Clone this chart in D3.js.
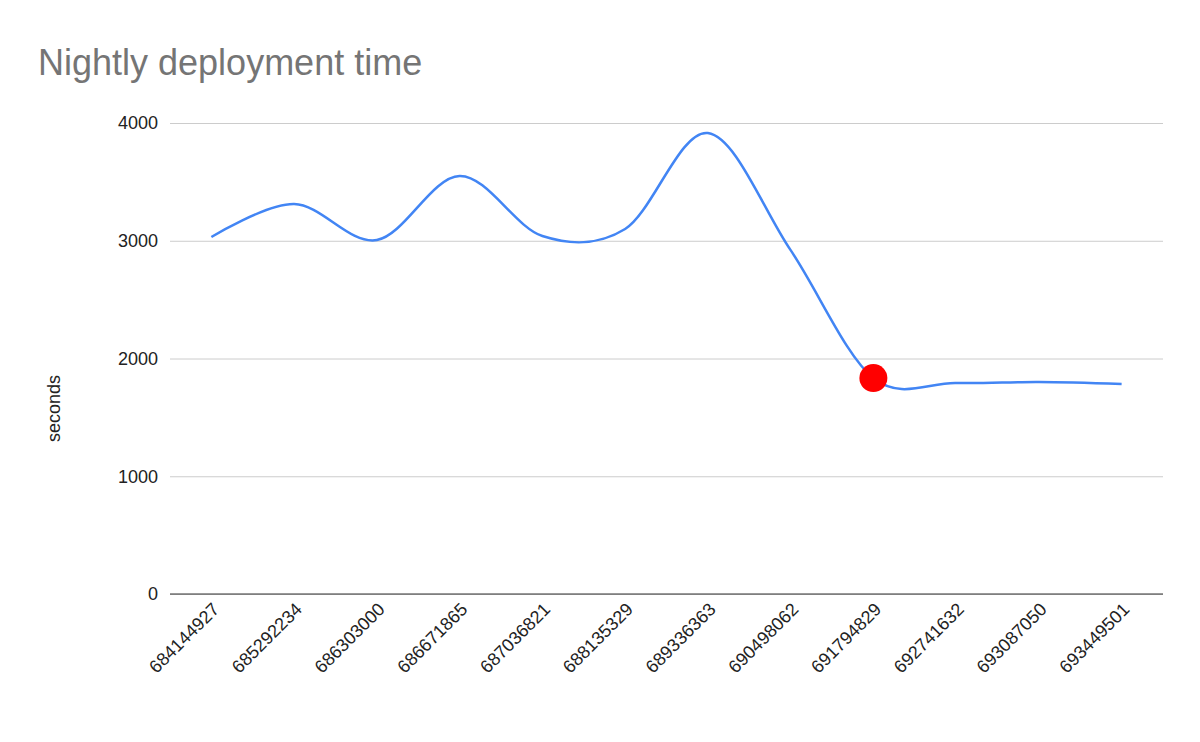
<!DOCTYPE html>
<html><head><meta charset="utf-8">
<script src="https://cdn.jsdelivr.net/npm/d3@7"></script>
<style>body{margin:0;background:#fff}</style>
</head><body>
<svg id="c" width="1200" height="742"></svg>
<script>
const categories=["684144927","685292234","686303000","686671865","687036821","688135329","689336363","690498062","691794829","692741632","693087050","693449501"];
const seconds=[3032,3312,3006,3550,3040,3100,3915,2920,1834,1792,1800,1783];
const highlightIndex=[8];
const yTicks=[0,1000,2000,3000,4000];

const svg=d3.select("#c");
const font="'Liberation Sans', Arial, sans-serif";
const L=170,R=1163,T=123,B=594;
const x=d3.scalePoint().domain(categories).range([L,R]).padding(0.5);
const y=d3.scaleLinear().domain([0,4000]).range([B,T]);

svg.append("text").attr("x",38).attr("y",75).attr("font-family",font).attr("font-size",36).attr("fill","#757575").text("Nightly deployment time");

const ga=svg.append("g").attr("transform",`translate(${L},0)`)
 .call(d3.axisLeft(y).tickValues(yTicks).tickSize(-(R-L)).tickFormat(d3.format("d")));
ga.select(".domain").remove();
ga.selectAll(".tick line").attr("stroke","#ccc");
ga.selectAll(".tick text").attr("font-family",font).attr("font-size",18).attr("fill","#222").attr("x",-12);
svg.append("line").attr("x1",L).attr("x2",R).attr("y1",B).attr("y2",B).attr("stroke","#333");

const gx=svg.append("g").attr("transform",`translate(0,${B})`).call(d3.axisBottom(x).tickSize(0));
gx.select(".domain").remove();
gx.selectAll(".tick text").attr("font-family",font).attr("font-size",18).attr("fill","#222")
 .attr("text-anchor","end").attr("transform","translate(4,12) rotate(-45)").attr("dy","0.35em").attr("y",0);

svg.append("text").attr("transform",`translate(60,${(T+B)/2+50}) rotate(-90)`).attr("text-anchor","middle")
 .attr("font-family",font).attr("font-size",18).attr("fill","#222").text("seconds");

const line=d3.line().x((d,i)=>x(categories[i])).y(d=>y(d)).curve(d3.curveCardinal.tension(0));
svg.append("path").datum(seconds).attr("d",line).attr("fill","none").attr("stroke","#4285f4").attr("stroke-width",2.5);

svg.selectAll("circle.h").data(highlightIndex).join("circle").attr("cx",i=>x(categories[i])).attr("cy",i=>y(seconds[i]))
 .attr("r",14).attr("fill","#ff0000");
</script>
</body></html>
